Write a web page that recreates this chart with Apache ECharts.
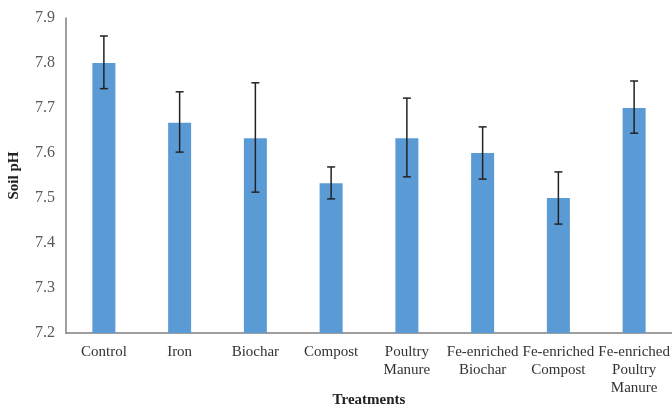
<!DOCTYPE html>
<html><head><meta charset="utf-8">
<script src="https://cdn.jsdelivr.net/npm/echarts@6/dist/echarts.min.js"></script>
<style>html,body{margin:0;padding:0;background:#fff}#c{width:672px;height:409px}</style>
</head><body><div id="c"></div>
<script>
const categories = ["Control","Iron","Biochar","Compost","Poultry\nManure","Fe-enriched\nBiochar","Fe-enriched\nCompost","Fe-enriched\nPoultry\nManure"];
const meanPH = [7.80, 7.667, 7.633, 7.533, 7.633, 7.60, 7.50, 7.70];
const errUpper = [7.86, 7.736, 7.756, 7.569, 7.722, 7.658, 7.558, 7.76];
const errLower = [7.743, 7.602, 7.513, 7.498, 7.547, 7.542, 7.442, 7.644];

const errData = categories.map((c,i)=>[i, errLower[i], errUpper[i]]);
const chart = echarts.init(document.getElementById('c'));
const font = 'Liberation Serif';
chart.setOption({
  animation:false,
  grid:{left:66,top:18,right:0,bottom:76,containLabel:false,outerBoundsMode:'none'},
  xAxis:{type:'category',data:categories,
    name:'Treatments',nameLocation:'middle',nameGap:60,nameMoveOverlap:false,
    nameTextStyle:{fontFamily:font,fontWeight:'bold',fontSize:15,color:'#222'},
    axisLine:{lineStyle:{color:'#7f7f7f',width:1.5}},axisTick:{show:false},
    axisLabel:{interval:0,fontFamily:font,fontSize:15,color:'#333',lineHeight:18,margin:10}},
  yAxis:{type:'value',min:7.2,max:7.9,interval:0.1,
    name:'Soil pH',nameLocation:'middle',nameGap:44,
    nameTextStyle:{fontFamily:font,fontWeight:'bold',fontSize:15,color:'#222'},
    axisLine:{show:true,lineStyle:{color:'#7f7f7f',width:1.5}},axisTick:{show:false},
    splitLine:{show:false},
    axisLabel:{fontFamily:font,fontSize:16,color:'#595959',margin:11,formatter:v=>v.toFixed(1)}},
  series:[
    {type:'bar',data:meanPH,barWidth:23,itemStyle:{color:'#5b9bd5'}},
    {type:'custom',data:errData,z:10,
     renderItem:function(params,api){
       const x=api.value(0);
       const lo=api.coord([x,api.value(1)]);
       const hi=api.coord([x,api.value(2)]);
       const w=4;
       const st={stroke:'#222',lineWidth:1.5};
       return {type:'group',children:[
         {type:'line',shape:{x1:lo[0],y1:lo[1],x2:hi[0],y2:hi[1]},style:st},
         {type:'line',shape:{x1:lo[0]-w,y1:lo[1],x2:lo[0]+w,y2:lo[1]},style:st},
         {type:'line',shape:{x1:hi[0]-w,y1:hi[1],x2:hi[0]+w,y2:hi[1]},style:st}
       ]};
     }}
  ]
});
</script></body></html>
